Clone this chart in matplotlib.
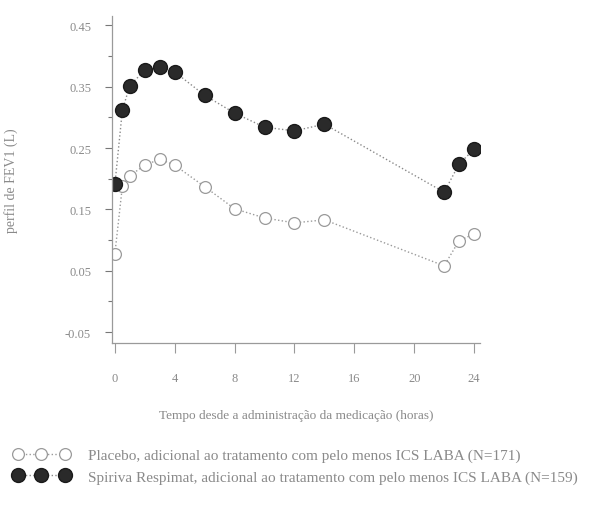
import matplotlib
matplotlib.use("Agg")
import matplotlib.pyplot as plt
from matplotlib.ticker import MultipleLocator

# horas apos a dose
tempo = [0, 0.5, 1, 2, 3, 4, 6, 8, 10, 12, 14, 22, 23, 24]
spiriva = [0.191, 0.312, 0.352, 0.377, 0.382, 0.374, 0.336, 0.307, 0.284, 0.278, 0.289, 0.178, 0.224, 0.248]
placebo = [0.078, 0.188, 0.205, 0.222, 0.232, 0.222, 0.187, 0.151, 0.136, 0.128, 0.133, 0.058, 0.099, 0.110]

xticks = [0, 4, 8, 12, 16, 20, 24]
yticks = [0.45, 0.35, 0.25, 0.15, 0.05, -0.05]
ytick_labels = ["0.45", "0.35", "0.25", "0.15", "0.05", "-0.05"]

lbl_placebo = "Placebo, adicional ao tratamento com pelo menos ICS LABA (N=171)"
lbl_spiriva = "Spiriva Respimat, adicional ao tratamento com pelo menos ICS LABA (N=159)"

cor_txt = "#8a8a8a"
plt.rcParams["font.family"] = ["Liberation Serif", "DejaVu Serif"]

fig = plt.figure(figsize=(5.89, 5.06), dpi=100)
ax = fig.add_axes([0.190, 0.320, 0.625, 0.646])

l1, = ax.plot(tempo, placebo, linestyle=":", color="#9a9a9a", lw=1.0,
              marker="o", markersize=8.5, markerfacecolor="white",
              markeredgecolor="#9a9a9a", markeredgewidth=0.9, label=lbl_placebo)
l2, = ax.plot(tempo, spiriva, linestyle=":", color="#8a8a8a", lw=1.0,
              marker="o", markersize=10, markerfacecolor="#2a2a2a",
              markeredgecolor="#1a1a1a", label=lbl_spiriva)

ax.set_xlim(-0.2, 24.4)
ax.set_ylim(-0.068, 0.465)
ax.set_xticks(xticks)
ax.set_yticks(yticks)
ax.set_yticklabels(ytick_labels)
ax.yaxis.set_minor_locator(MultipleLocator(0.1))
ax.yaxis.set_minor_formatter(plt.NullFormatter())

for s in ["top", "right"]:
    ax.spines[s].set_visible(False)
for s in ["left", "bottom"]:
    ax.spines[s].set_color("#9a9a9a")
    ax.spines[s].set_linewidth(0.9)

ax.tick_params(axis="x", length=7, width=0.8, color="#9a9a9a", pad=14,
               labelsize=9, labelcolor=cor_txt)
ax.tick_params(axis="y", which="major", length=5, width=0.8, color="#777777",
               pad=10, labelsize=9, labelcolor=cor_txt)
ax.tick_params(axis="y", which="minor", length=3, width=0.8, color="#777777")

ax.set_xlabel("Tempo desde a administração da medicação (horas)",
              fontsize=9.5, color=cor_txt, labelpad=18)
ax.set_ylabel("perfil de FEV1 (L)", fontsize=10, color=cor_txt, labelpad=34)

fig.legend(handles=[l1, l2], loc="upper left", bbox_to_anchor=(0.012, 0.124),
           frameon=False, numpoints=3, handlelength=3.7, handletextpad=1.2,
           borderaxespad=0, labelspacing=0.5, fontsize=11, labelcolor=cor_txt)

fig.savefig("out.png", dpi=100)
